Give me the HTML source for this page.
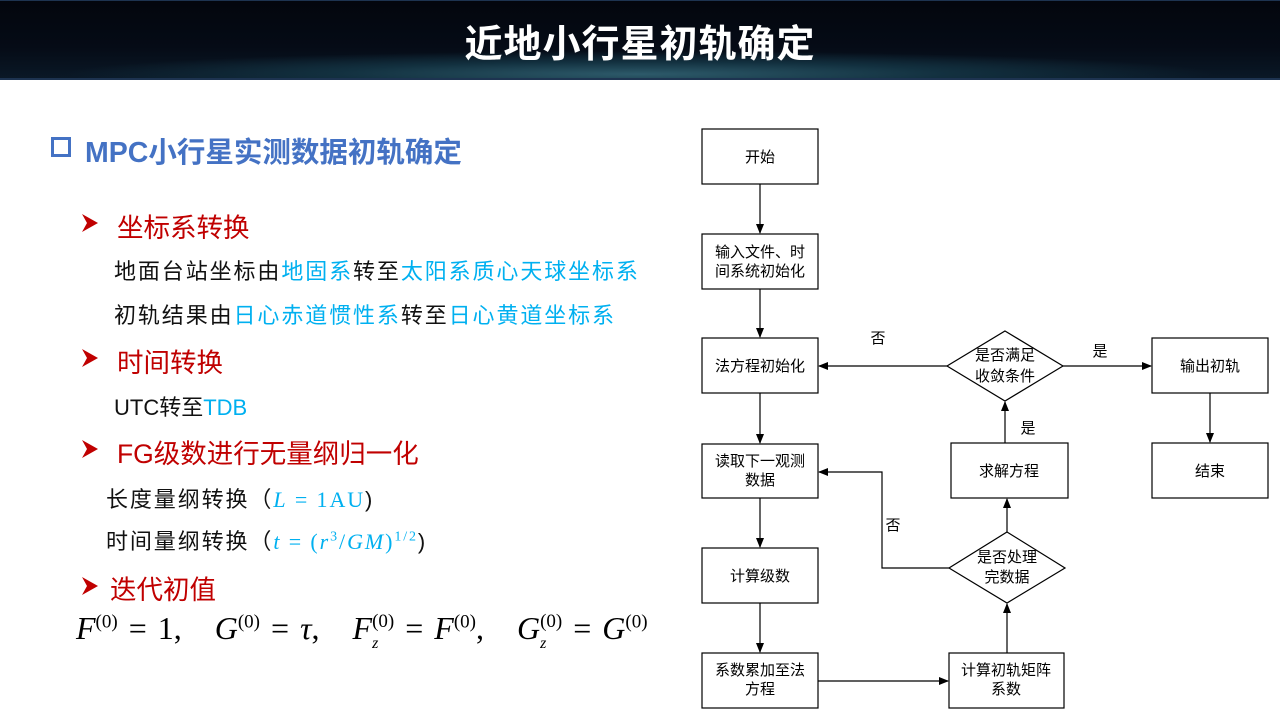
<!DOCTYPE html>
<html><head><meta charset="utf-8">
<style>
body{margin:0;width:1280px;height:720px;background:#fff;position:relative;overflow:hidden;font-family:"Liberation Sans","Noto Sans CJK SC",sans-serif;}
.hdr{position:absolute;left:0;top:0;width:1280px;height:80px;background:radial-gradient(ellipse 60% 40% at 50% 95%,#2d5a6a 0%,#12303f 40%,rgba(4,10,20,0) 75%),linear-gradient(#03060d,#050b16 60%,#0a1826);border-top:1px solid #1d3350;border-bottom:2px solid #1d3350;box-sizing:border-box;}
.title{position:absolute;left:0;width:1280px;top:12px;text-align:center;color:#fff;font-size:38px;font-weight:bold;letter-spacing:1px;}
.t{position:absolute;white-space:nowrap;}
.h{color:#4472c4;font-size:28.5px;font-weight:bold;}
.r{color:#c00000;font-size:26.5px;}
.b{color:#111;font-size:22px;letter-spacing:1.9px;}
.c{color:#00b0f0;}
.m{font-family:"Liberation Serif",serif;font-style:italic;}
.tri{position:absolute;width:16px;height:18px;}
</style></head><body>
<div class="hdr"><div class="title">近地小行星初轨确定</div></div>

<div class="t" style="left:51px;top:137px;width:14px;height:14px;border:3px solid #4472c4;"></div>
<div class="t h" style="left:85px;top:130px;">MPC小行星实测数据初轨确定</div>

<svg class="tri" style="left:82px;top:214px" viewBox="0 0 16 18"><path d="M0,0 L16,9 L0,18 L5,9 z" fill="#c00000"/></svg>
<div class="t r" style="left:117px;top:206px;">坐标系转换</div>
<div class="t b" style="left:114px;top:254px;">地面台站坐标由<span class="c">地固系</span>转至<span class="c">太阳系质心天球坐标系</span></div>
<div class="t b" style="left:114px;top:298px;">初轨结果由<span class="c">日心赤道惯性系</span>转至<span class="c">日心黄道坐标系</span></div>
<svg class="tri" style="left:82px;top:349px" viewBox="0 0 16 18"><path d="M0,0 L16,9 L0,18 L5,9 z" fill="#c00000"/></svg>
<div class="t r" style="left:117px;top:341px;">时间转换</div>
<div class="t b" style="left:114px;top:390px;letter-spacing:0;">UTC转至<span class="c">TDB</span></div>
<svg class="tri" style="left:82px;top:440px" viewBox="0 0 16 18"><path d="M0,0 L16,9 L0,18 L5,9 z" fill="#c00000"/></svg>
<div class="t r" style="left:117px;top:432px;">FG级数进行无量纲归一化</div>
<div class="t b" style="left:106px;top:482px;">长度量纲转换（<span class="c m">L</span><span class="c" style="font-family:'Liberation Serif',serif;"> = 1AU</span>)</div>
<div class="t b" style="left:106px;top:524px;">时间量纲转换（<span class="c m">t</span><span class="c" style="font-family:'Liberation Serif',serif;"> = (<i>r</i><sup style="font-size:14px">3</sup>/<i>GM</i>)<sup style="font-size:14px">1/2</sup></span>)</div>
<svg class="tri" style="left:82px;top:577px" viewBox="0 0 16 18"><path d="M0,0 L16,9 L0,18 L5,9 z" fill="#c00000"/></svg>
<div class="t r" style="left:110px;top:568px;">迭代初值</div>
<div class="t" style="left:76px;top:610px;font-family:'Liberation Serif',serif;font-size:32px;color:#000;word-spacing:3px;">
<i>F</i><sup style="font-size:19px">(0)</sup> = 1, &nbsp; <i>G</i><sup style="font-size:19px">(0)</sup> = <i>τ</i>, &nbsp; <i>F</i><sup style="font-size:19px;position:relative;"><span style="position:absolute;top:24px;left:0;font-size:16px;"><i>z</i></span>(0)</sup> = <i>F</i><sup style="font-size:19px">(0)</sup>, &nbsp; <i>G</i><sup style="font-size:19px;position:relative;"><span style="position:absolute;top:24px;left:0;font-size:16px;"><i>z</i></span>(0)</sup> = <i>G</i><sup style="font-size:19px">(0)</sup></div>

<svg width="1280" height="720" style="position:absolute;left:0;top:0" font-family="Liberation Sans,Noto Sans CJK SC,sans-serif" font-size="15">
<defs><marker id="a" markerWidth="10" markerHeight="10" refX="9" refY="5" orient="auto" markerUnits="userSpaceOnUse"><path d="M0,1 L10,5 L0,9 z" fill="#000"/></marker></defs>
<g fill="#fff" stroke="#000" stroke-width="1.2">
<rect x="702" y="129" width="116" height="55"/>
<rect x="702" y="234" width="116" height="55"/>
<rect x="702" y="338" width="116" height="55"/>
<rect x="702" y="444" width="116" height="54"/>
<rect x="702" y="548" width="116" height="55"/>
<rect x="702" y="653" width="116" height="55"/>
<rect x="949" y="653" width="115" height="55"/>
<rect x="951" y="443" width="117" height="55"/>
<rect x="1152" y="338" width="116" height="55"/>
<rect x="1152" y="443" width="116" height="55"/>
<polygon points="1005,331 1063,366 1005,401 947,366"/>
<polygon points="1007,532 1065,568 1007,603 949,568"/>
</g>
<g stroke="#000" stroke-width="1.2" fill="none" marker-end="url(#a)">
<line x1="760" y1="184" x2="760" y2="233"/>
<line x1="760" y1="289" x2="760" y2="337"/>
<line x1="760" y1="393" x2="760" y2="443"/>
<line x1="760" y1="498" x2="760" y2="547"/>
<line x1="760" y1="603" x2="760" y2="652"/>
<line x1="818" y1="681" x2="948" y2="681"/>
<line x1="1007" y1="653" x2="1007" y2="604"/>
<line x1="1007" y1="532" x2="1007" y2="499"/>
<line x1="1005" y1="443" x2="1005" y2="402"/>
<line x1="947" y1="366" x2="819" y2="366"/>
<line x1="1063" y1="366" x2="1151" y2="366"/>
<line x1="1210" y1="393" x2="1210" y2="442"/>
<polyline points="949,568 882,568 882,472 819,472"/>
</g>
<g text-anchor="middle" fill="#000">
<text x="760" y="162">开始</text>
<text x="760" y="257">输入文件、时</text><text x="760" y="276">间系统初始化</text>
<text x="760" y="371">法方程初始化</text>
<text x="760" y="466">读取下一观测</text><text x="760" y="485">数据</text>
<text x="760" y="581">计算级数</text>
<text x="760" y="675">系数累加至法</text><text x="760" y="694">方程</text>
<text x="1006" y="675">计算初轨矩阵</text><text x="1006" y="694">系数</text>
<text x="1009" y="476">求解方程</text>
<text x="1210" y="371">输出初轨</text>
<text x="1210" y="476">结束</text>
<text x="1005" y="360">是否满足</text><text x="1005" y="381">收敛条件</text>
<text x="1007" y="562">是否处理</text><text x="1007" y="582">完数据</text>
<text x="878" y="343">否</text>
<text x="1100" y="356">是</text>
<text x="1028" y="433">是</text>
<text x="893" y="530">否</text>
</g>
</svg>
</body></html>
